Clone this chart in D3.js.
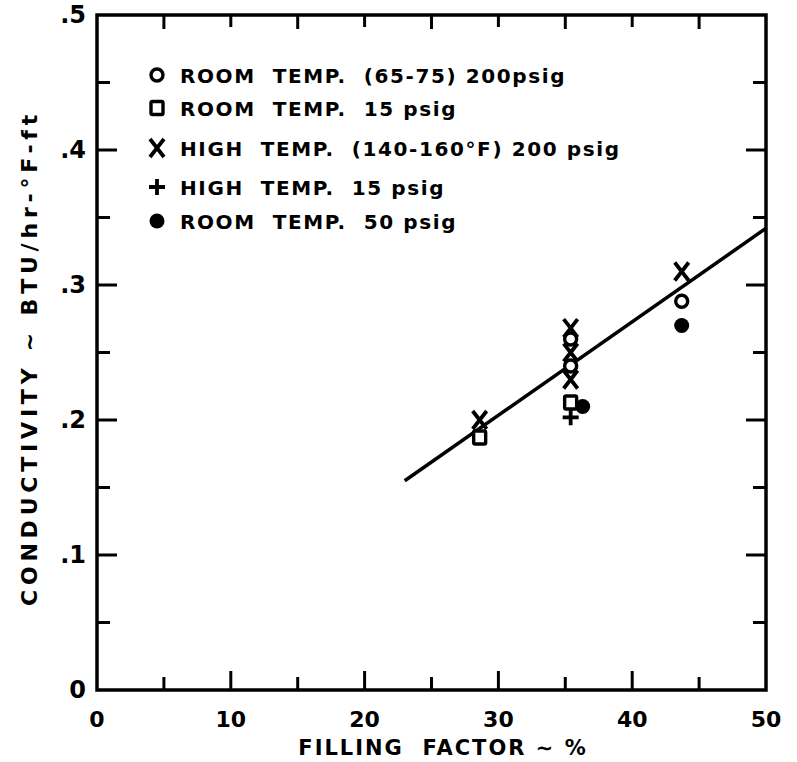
<!DOCTYPE html>
<html><head><meta charset="utf-8">
<script src="https://cdn.jsdelivr.net/npm/d3@7"></script>
<style>body{margin:0;background:#fff}svg{display:block}text{font-family:"DejaVu Sans",sans-serif;font-weight:bold;fill:#000}</style>
</head><body><svg id="c" width="797" height="762"></svg>
<script>
const xTicks = [0,10,20,30,40,50];
const yTicks = [0,0.1,0.2,0.3,0.4,0.5];
const yTickLabels = ["0",".1",".2",".3",".4",".5"];
const roomHigh = [[35.4,0.260],[35.4,0.240],[43.7,0.288]];
const room15 = [[28.6,0.187],[35.4,0.213]];
const high200 = [[28.6,0.200],[35.4,0.268],[35.4,0.250],[35.4,0.230],[43.7,0.310]];
const high15 = [[35.4,0.202]];
const room50 = [[36.3,0.210],[43.7,0.270]];
const fitX = [23,50];
const fitY = [0.155,0.342];
const legendLabels = ["ROOM  TEMP.  (65-75) 200psig","ROOM  TEMP.  15 psig","HIGH  TEMP.  (140-160\u00B0F) 200 psig","HIGH  TEMP.  15 psig","ROOM  TEMP.  50 psig"];

const svg = d3.select("#c");
const x = d3.scaleLinear().domain([0,50]).range([97,766]);
const y = d3.scaleLinear().domain([0,0.5]).range([690,15]);
const g = svg.append("g");
const minorX = d3.range(0,51,5), minorY = d3.range(0,0.501,0.05);
const major = (v,step)=>Math.abs(v/step-Math.round(v/step))<1e-6;

g.append("rect").attr("x",x(0)).attr("y",y(0.5)).attr("width",x(50)-x(0)).attr("height",y(0)-y(0.5))
 .attr("fill","none").attr("stroke","#000").attr("stroke-width",3.5);
minorX.slice(1,-1).forEach(v=>{
  const L = major(v,10)?19:13;
  g.append("line").attr("x1",x(v)).attr("x2",x(v)).attr("y1",y(0)).attr("y2",y(0)-L).attr("stroke","#000").attr("stroke-width",3);
  g.append("line").attr("x1",x(v)).attr("x2",x(v)).attr("y1",y(0.5)).attr("y2",y(0.5)+(major(v,10)?12:14)).attr("stroke","#000").attr("stroke-width",3);
});
minorY.slice(1,-1).forEach(v=>{
  const L = major(v,0.1)?20:13;
  g.append("line").attr("x1",x(0)).attr("x2",x(0)+L).attr("y1",y(v)).attr("y2",y(v)).attr("stroke","#000").attr("stroke-width",3);
  g.append("line").attr("x1",x(50)).attr("x2",x(50)-L).attr("y1",y(v)).attr("y2",y(v)).attr("stroke","#000").attr("stroke-width",3);
});
xTicks.forEach(v=>g.append("text").attr("x",x(v)).attr("y",727).attr("text-anchor","middle").attr("font-size",22).text(v));
yTicks.forEach((v,i)=>g.append("text").attr("x",86).attr("y",y(v)+8).attr("text-anchor","end").attr("font-size",24).text(yTickLabels[i]));
g.append("text").attr("x",443).attr("y",755).attr("text-anchor","middle").attr("font-size",21).attr("letter-spacing",2).attr("xml:space","preserve").style("white-space","pre").text("FILLING  FACTOR \u223C %");
g.append("text").attr("transform","translate(37,358) rotate(-90)").attr("text-anchor","middle").attr("font-size",22).attr("letter-spacing",4.8).text("CONDUCTIVITY \u223C BTU/hr-\u00B0F-ft");
g.append("line").attr("x1",x(fitX[0])).attr("y1",y(fitY[0])).attr("x2",x(fitX[1])).attr("y2",y(fitY[1])).attr("stroke","#000").attr("stroke-width",3.5);

function drawMarker(sel,type,px,py){
  if(type==="circle") sel.append("circle").attr("cx",px).attr("cy",py).attr("r",6).attr("fill","#fff").attr("stroke","#000").attr("stroke-width",3.4);
  if(type==="square") sel.append("rect").attr("x",px-6).attr("y",py-6.5).attr("width",12).attr("height",13).attr("rx",1.5).attr("fill","#fff").attr("stroke","#000").attr("stroke-width",3.4);
  if(type==="x") sel.append("path").attr("d",`M${px-7},${py-9}L${px+7},${py+9}M${px+7},${py-9}L${px-7},${py+9}`).attr("stroke","#000").attr("stroke-width",3.8).attr("fill","none");
  if(type==="plus") sel.append("path").attr("d",`M${px-8},${py}L${px+8},${py}M${px},${py-8}L${px},${py+8}`).attr("stroke","#000").attr("stroke-width",3.8).attr("fill","none");
  if(type==="dot") sel.append("circle").attr("cx",px).attr("cy",py).attr("r",7.5).attr("fill","#000");
}
const series = [[room50,"dot"],[high15,"plus"],[room15,"square"],[high200,"x"],[roomHigh,"circle"]];
series.forEach(([d,t])=>d.forEach(p=>drawMarker(g,t,x(p[0]),y(p[1]))));
const types = ["circle","square","x","plus","dot"];
const ly = [75,108,148,187,221];
legendLabels.forEach((t,i)=>{
  drawMarker(g,types[i],157,ly[i]);
  g.append("text").attr("x",180).attr("y",ly[i]+8).attr("font-size",20).attr("letter-spacing",1.6).attr("xml:space","preserve").style("white-space","pre").text(t);
});
</script></body></html>
